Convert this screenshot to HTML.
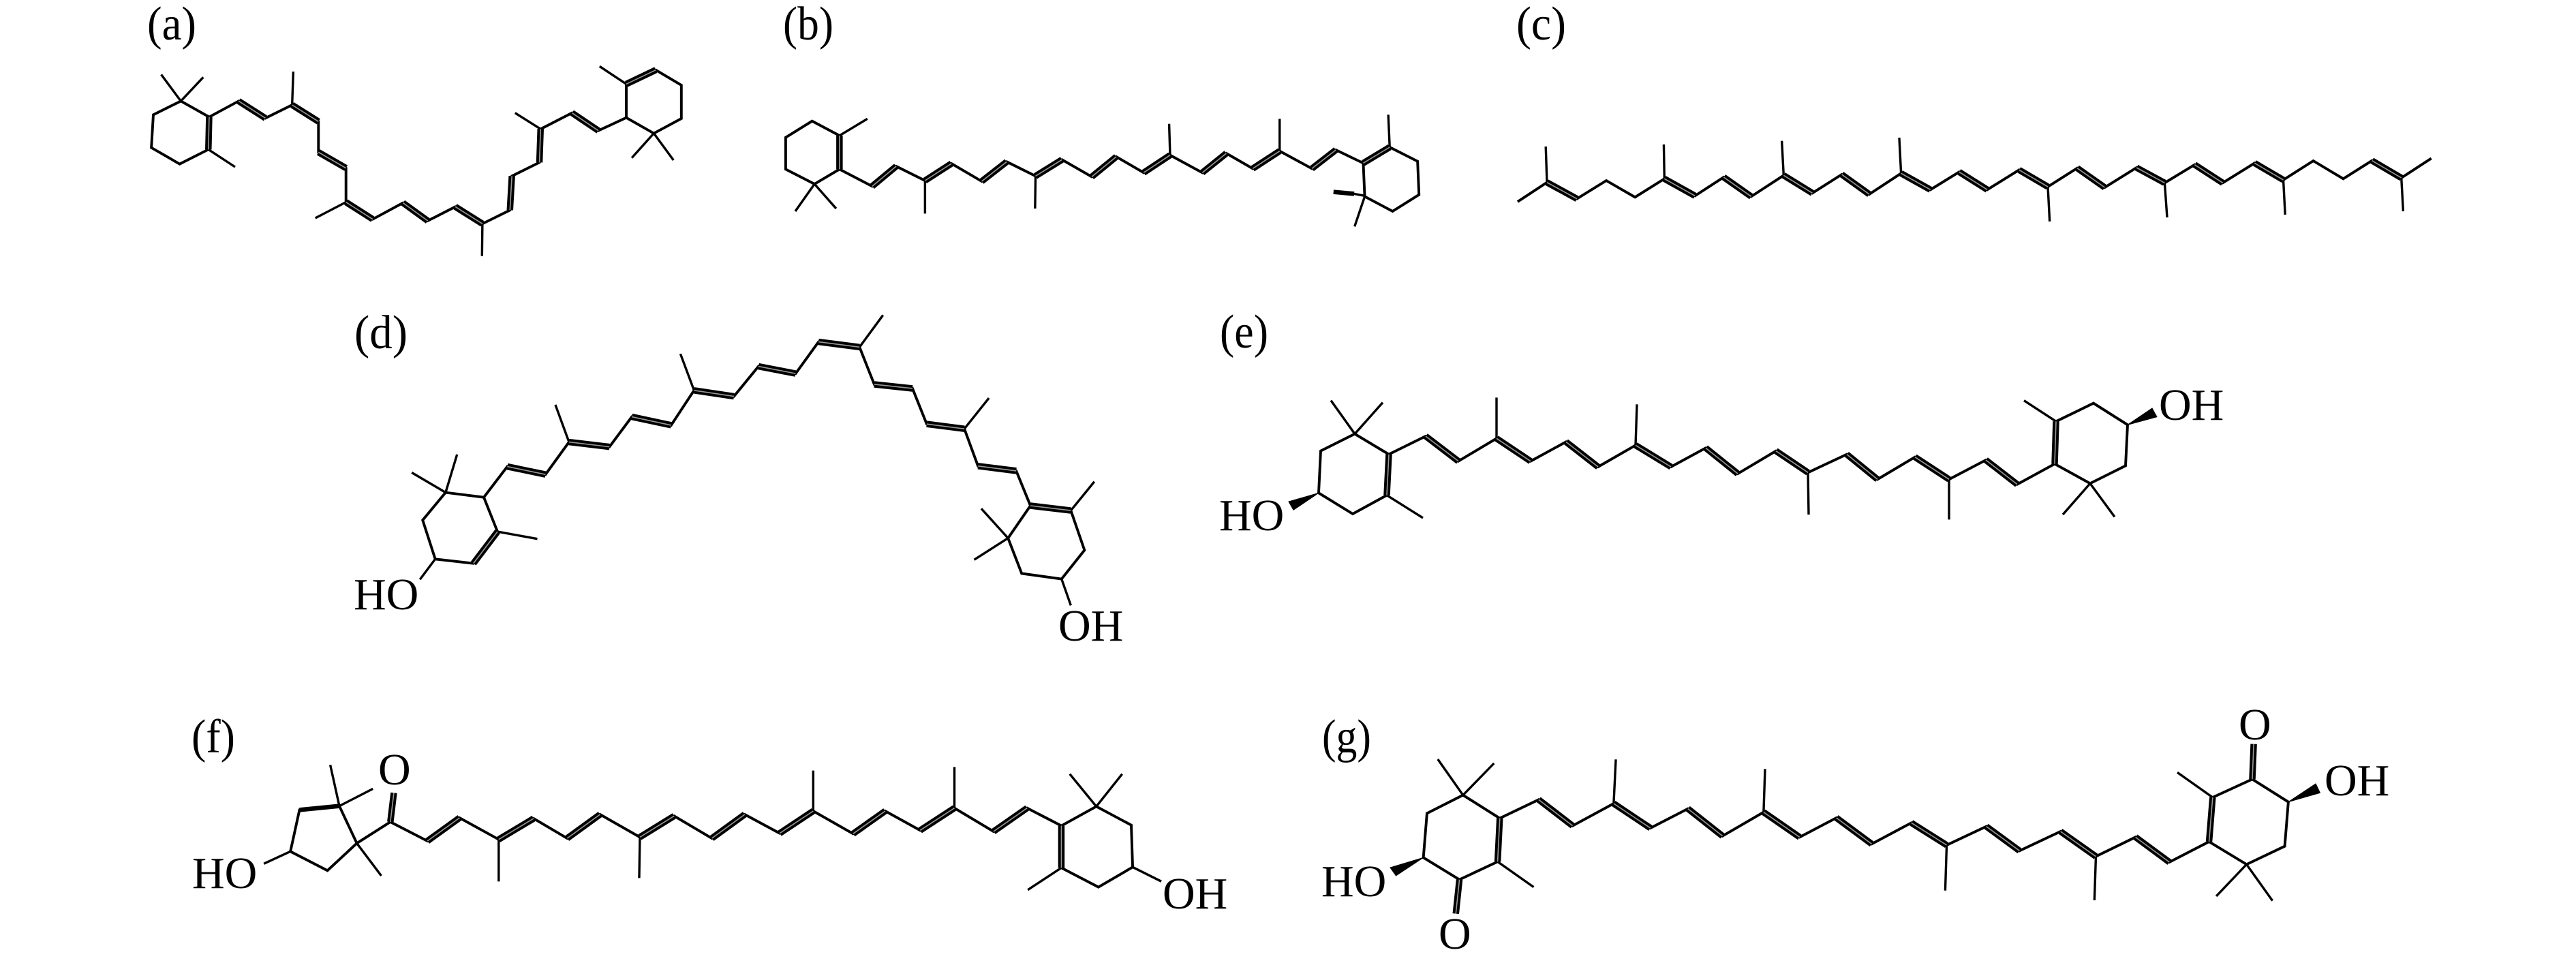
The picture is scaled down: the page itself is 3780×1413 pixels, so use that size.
<!DOCTYPE html>
<html><head><meta charset="utf-8"><style>
html,body{margin:0;padding:0;background:#fff}
svg{display:block}
path{fill:none;stroke:#000;stroke-width:3.9;stroke-linejoin:miter;stroke-linecap:butt;vector-effect:non-scaling-stroke}
path.m{stroke-width:3.4}
path.d{stroke-width:9.5}
path.w{stroke:#fff;stroke-width:1.6;opacity:.6}
path.t{stroke-width:6.5}
path.f{fill:#000;stroke:#000;stroke-width:1}
text{font-family:"Liberation Serif",serif;fill:#000;font-size:66px}
text.l{font-size:70px}
</style></head><body>
<svg xmlns="http://www.w3.org/2000/svg" width="3780" height="1413" viewBox="0 0 3780 1413">
<rect width="3780" height="1413" fill="#fff"/>

<text class="l" x="216" y="58" textLength="72" lengthAdjust="spacingAndGlyphs">(a)</text>
<text class="l" x="1149" y="58" textLength="74" lengthAdjust="spacingAndGlyphs">(b)</text>
<text class="l" x="2225" y="58" textLength="73" lengthAdjust="spacingAndGlyphs">(c)</text>
<text class="l" x="520" y="511" textLength="78" lengthAdjust="spacingAndGlyphs">(d)</text>
<text class="l" x="1790" y="510" textLength="71" lengthAdjust="spacingAndGlyphs">(e)</text>
<text class="l" x="281" y="1104" textLength="64" lengthAdjust="spacingAndGlyphs">(f)</text>
<text class="l" x="1940" y="1104" textLength="72" lengthAdjust="spacingAndGlyphs">(g)</text>

<text x="519" y="894">HO</text>
<text x="1553" y="940">OH</text>
<text x="1789" y="778">HO</text>
<text x="3168" y="616">OH</text>
<text x="282" y="1303">HO</text>
<text x="555" y="1151">O</text>
<text x="1706" y="1333">OH</text>
<text x="1939" y="1315">HO</text>
<text x="2111" y="1392">O</text>
<text x="3285" y="1085">O</text>
<text x="3411" y="1167">OH</text>

<!-- a -->
<g transform="matrix(.57692 0 0 .33333 150 0)">
<path d="M200 445L130 505L125 650L197 722L270 658L272 515L200 445M272 515L347 445L415 520L483 462L550 535L550 670L620 740L620 890L688 965L765 893L828 972L898 910L967 985L1037 925L1042 775L1112 715L1115 568L1195 497L1262 575L1333 518L1333 370L1408 308L1473 375L1473 522L1403 587L1333 518"/>
<path class="m" d="M200 445L150 328M200 445L257 340M270 658L338 735M483 462L486 315M620 890L542 960M967 985L966 1127M1115 568L1050 497M1333 370L1265 292M1403 587L1347 695M1403 587L1453 705"/>
<path class="d" d="M272 515L270 658M347 445L415 520M483 462L550 535M550 670L620 740M620 890L688 965M765 893L828 972M898 910L967 985M1042 775L1037 925M1112 715L1115 568M1195 497L1262 575M1333 370L1408 308"/>
<path class="w" d="M272 515L270 658M347 445L415 520M483 462L550 535M550 670L620 740M620 890L688 965M765 893L828 972M898 910L967 985M1042 775L1037 925M1112 715L1115 568M1195 497L1262 575M1333 370L1408 308"/>
</g>

<!-- b -->
<g transform="matrix(.70513 0 0 .33333 1100 0)">
<path d="M187 597L130 533L75 605L75 745L135 810L187 745L187 597M187 745L255 820L305 732L365 795L420 720L483 798L535 712L595 775L650 703L712 778L763 690L820 760L875 683L942 760L992 675L1047 742L1103 665L1170 742L1220 660L1277 718L1332 648L1390 710L1393 857L1338 930L1280 865L1277 718"/>
<path class="m" d="M187 597L245 523M135 810L95 930M135 810L180 918M365 795L365 940M595 775L594 918M875 683L873 545M1103 665L1103 523M1332 648L1329 505M1280 865L1259 997M1280 862L1255 852"/>
<path class="t" d="M1258 853L1215 845"/>
<path class="d" d="M187 745L187 597M255 820L305 732M365 795L420 720M483 798L535 712M595 775L650 703M712 778L763 690M820 760L875 683M942 760L992 675M1047 742L1103 665M1170 742L1220 660M1277 718L1332 648"/>
<path class="w" d="M187 745L187 597M255 820L305 732M365 795L420 720M483 798L535 712M595 775L650 703M712 778L763 690M820 760L875 683M942 760L992 675M1047 742L1103 665M1170 742L1220 660M1277 718L1332 648"/>
</g>

<!-- c -->
<g transform="matrix(.89744 0 0 .33333 2200 0)">
<path d="M30 888L78 803L127 875L175 795L222 868L270 787L320 862L367 780L412 865L465 772L512 850L560 768L605 855L657 763L705 835L752 757L798 835L850 748L897 822L945 740L990 825L1042 738L1088 805L1137 725L1183 805L1235 718L1282 792L1331 708L1380 787L1427 707L1475 783L1524 697"/>
<path class="m" d="M78 803L76 645M270 787L269 636M465 772L462 620M657 763L654 606M897 822L900 975M1088 805L1092 957M1282 792L1285 945M1475 783L1478 930"/>
<path class="d" d="M78 803L127 875M270 787L320 862M367 780L412 865M465 772L512 850M560 768L605 855M657 763L705 835M752 757L798 835M850 748L897 822M945 740L990 825M1042 738L1088 805M1137 725L1183 805M1235 718L1282 792M1427 707L1475 783"/>
<path class="w" d="M78 803L127 875M270 787L320 862M367 780L412 865M465 772L512 850M560 768L605 855M657 763L705 835M752 757L798 835M850 748L897 822M945 740L990 825M1042 738L1088 805M1137 725L1183 805M1235 718L1282 792M1427 707L1475 783"/>
</g>

<!-- d -->
<g transform="matrix(.80128 0 0 .35256 480 430)">
<path d="M217 830L287 850L312 993L268 1125L198 1107L175 945L217 830M287 850L330 722L400 755L443 620L517 640L558 515L630 550L672 405L745 430L790 305L858 335L900 203L975 225L1002 380L1072 397L1098 545L1167 565L1192 720L1262 740L1288 885L1362 905L1387 1070L1345 1190L1272 1167L1247 1020L1288 885"/>
<path class="m" d="M217 830L155 747M217 830L238 672M312 993L385 1023M198 1107L170 1192M443 620L418 465M672 405L647 253M975 225L1018 92M1167 565L1212 437M1362 905L1405 785M1247 1020L1198 897M1247 1020L1185 1110M1345 1190L1362 1300"/>
<path class="d" d="M312 993L268 1125M330 722L400 755M443 620L517 640M558 515L630 550M672 405L745 430M790 305L858 335M900 203L975 225M1002 380L1072 397M1098 545L1167 565M1192 720L1262 740M1288 885L1362 905"/>
<path class="w" d="M312 993L268 1125M330 722L400 755M443 620L517 640M558 515L630 550M672 405L745 430M790 305L858 335M900 203L975 225M1002 380L1072 397M1098 545L1167 565M1192 720L1262 740M1288 885L1362 905"/>
</g>

<!-- e -->
<g transform="matrix(1 0 0 .33333 1760 440)">
<path d="M228 590L178 665L175 850L225 942L275 860L278 680L228 590M278 680L332 600L380 710L436 610L486 710L538 625L585 735L640 640L692 735L743 652L790 765L846 665L893 760L950 680L995 790L1050 692L1100 790L1154 705L1200 812L1255 722L1257 535L1312 455L1362 550L1359 730L1307 808L1255 722"/>
<path class="m" d="M228 590L193 443M228 590L269 452M275 860L328 960M436 610L436 430M640 640L642 460M893 760L894 945M1100 790L1100 967M1257 535L1210 443M1307 808L1267 945M1307 808L1343 955"/>
<path class="f" d="M175 850L131 888L138 925Z"/>
<path class="f" d="M1362 550L1398 477L1405 515Z"/>
<path class="d" d="M278 680L275 860M332 600L380 710M436 610L486 710M538 625L585 735M640 640L692 735M743 652L790 765M846 665L893 760M950 680L995 790M1050 692L1100 790M1154 705L1200 812M1255 722L1257 535"/>
<path class="w" d="M278 680L275 860M332 600L380 710M436 610L486 710M538 625L585 735M640 640L692 735M743 652L790 765M846 665L893 760M950 680L995 790M1050 692L1100 790M1154 705L1200 812M1255 722L1257 535"/>
</g>

<!-- f -->
<g transform="matrix(1.02564 0 0 .33333 260 1040)">
<path d="M162 628L175 445L232 428L257 592L215 712L162 628M257 592L305 498L358 582L404 480L460 575L510 483L558 570L605 465L662 565L711 472L765 570L812 465L862 548L910 450L967 550L1013 450L1063 535L1112 437L1168 540L1216 437L1265 515L1315 430L1365 512L1367 697L1318 785L1265 700L1265 515"/>
<path class="m" d="M232 428L280 352M219 247L232 428M257 592L292 735M162 628L124 682M460 575L460 760M662 565L661 745M910 450L910 272M1112 437L1112 256M1315 430L1277 287M1315 430L1352 287M1265 700L1217 797M1367 697L1408 760"/>
<path class="t" d="M175 445L232 428"/>
<path class="d" d="M305 498L310 370M358 582L404 480M460 575L510 483M558 570L605 465M662 565L711 472M765 570L812 465M862 548L910 450M967 550L1013 450M1063 535L1112 437M1168 540L1216 437M1265 515L1265 700"/>
<path class="w" d="M305 498L310 370M358 582L404 480M460 575L510 483M558 570L605 465M662 565L711 472M765 570L812 465M862 548L910 450M967 550L1013 450M1063 535L1112 437M1168 540L1216 437M1265 515L1265 700"/>
</g>

<!-- g -->
<g transform="matrix(1.05769 0 0 .33333 1930 1030)">
<path d="M205 410L155 490L150 685L200 782L253 703L256 512L205 410M256 512L310 430L357 545L414 447L465 555L517 470L565 590L622 485L672 595L723 510L772 625L827 532L876 630L931 548L977 655L1034 570L1083 680L1138 595L1185 705L1240 615L1245 420L1300 340L1350 440L1345 635L1292 715L1240 615"/>
<path class="m" d="M205 410L170 252M205 410L248 270M253 703L303 815M414 447L417 253M622 485L624 295M876 630L874 830M1083 680L1081 873M1245 420L1196 310M1292 715L1250 855M1292 715L1328 875"/>
<path class="f" d="M150 685L104 729L112 765Z"/>
<path class="f" d="M1350 440L1388 360L1394 400Z"/>
<path class="d" d="M200 782L195 932M256 512L253 703M310 430L357 545M414 447L465 555M517 470L565 590M622 485L672 595M723 510L772 625M827 532L876 630M931 548L977 655M1034 570L1083 680M1138 595L1185 705M1240 615L1245 420M1300 340L1302 185"/>
<path class="w" d="M200 782L195 932M256 512L253 703M310 430L357 545M414 447L465 555M517 470L565 590M622 485L672 595M723 510L772 625M827 532L876 630M931 548L977 655M1034 570L1083 680M1138 595L1185 705M1240 615L1245 420M1300 340L1302 185"/>
</g>
</svg>
</body></html>
